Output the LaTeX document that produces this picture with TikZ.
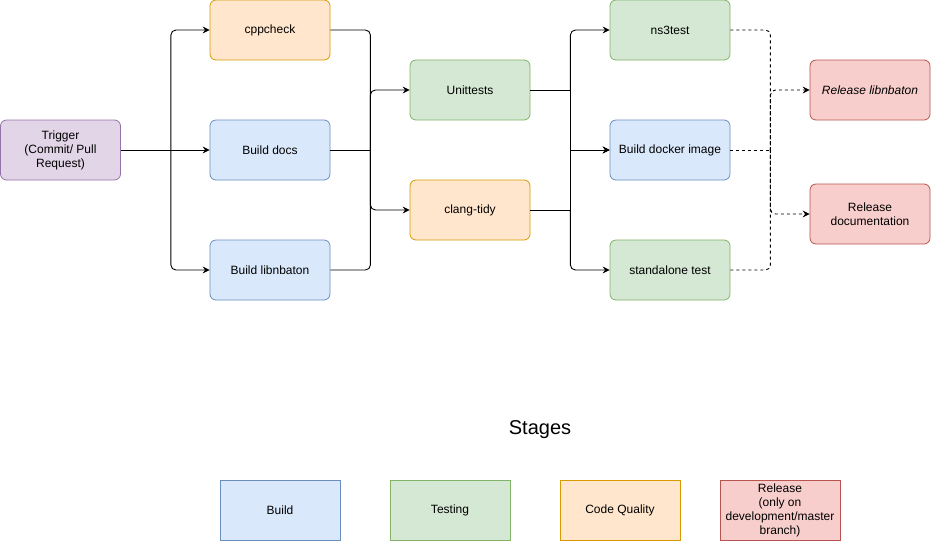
\documentclass[tikz,border=0pt]{standalone}
\usepackage{fontspec}
\setmainfont{Liberation Sans}
\usepackage{xcolor}
\usetikzlibrary{arrows.meta}
\usetikzlibrary{positioning}

\definecolor{buildfill}{HTML}{DAE8FC}
\definecolor{buildline}{HTML}{6C8EBF}
\definecolor{testfill}{HTML}{D5E8D4}
\definecolor{testline}{HTML}{82B366}
\definecolor{qualfill}{HTML}{FFE6CC}
\definecolor{qualline}{HTML}{D79B00}
\definecolor{relfill}{HTML}{F8CECC}
\definecolor{relline}{HTML}{B85450}
\definecolor{trigfill}{HTML}{E1D5E7}
\definecolor{trigline}{HTML}{9673A6}

\begin{document}
\begin{tikzpicture}[x=1pt,y=-1pt,
	stage/.style={draw,rounded corners=6pt,minimum width=120pt,minimum height=60pt,align=center,inner sep=2pt,font=\fontsize{12}{14}\selectfont,line width=0.8pt},
	build/.style={stage,fill=buildfill,draw=buildline},
	testing/.style={stage,fill=testfill,draw=testline},
	quality/.style={stage,fill=qualfill,draw=qualline},
	release/.style={stage,fill=relfill,draw=relline},
	legend/.style={sharp corners},
	wire/.style={draw,line width=0.9pt,rounded corners=5pt},
	flow/.style={wire,-{Stealth[length=7pt,width=7pt,inset=2.5pt]}},
	optional wire/.style={wire,dash pattern=on 3pt off 3pt},
	optional/.style={flow,dash pattern=on 3pt off 3pt}]
	\useasboundingbox (0,0) rectangle (931,542);
	
	\node[stage,fill=trigfill,draw=trigline] (trigger) at (60.5,150) {Trigger\\(Commit/ Pull\\Request)};
	
	\node[quality] (cppcheck) at (270,30) {cppcheck};
	\node[build] (docs) at (270,150) {Build docs};
	\node[build] (lib) at (270,270) {Build libnbaton};
	
	\node[testing] (unit) at (470,90) {Unittests};
	\node[quality] (tidy) at (470,210) {clang-tidy};
	
	\node[testing] (ns3) at (670,30) {ns3test};
	\node[build] (docker) at (670,150) {Build docker image};
	\node[testing] (alone) at (670,270) {standalone test};
	
	\node[release,font=\fontsize{12}{14}\selectfont\itshape] (rel lib) at (870,90) {Release libnbaton};
	\node[release] (rel doc) at (870,214) {Release\\documentation};
	
	\coordinate[right=50pt of trigger.east] (trig bus);
	\coordinate[right=40pt of docs.east] (docs bus);
	\coordinate[right=40pt of unit.east] (unit bus);
	\coordinate[right=40pt of tidy.east] (tidy bus);
	\coordinate[right=40pt of docker.east] (docker bus);
	
	% trigger to build stage
	\draw[wire] (trigger.east) -- (trig bus);
	\draw[flow] (trig bus) |- (cppcheck.west);
	\draw[flow] (trig bus) -- (docs.west);
	\draw[flow] (trig bus) |- (lib.west);
	
	% build to code checks
	\draw[wire] (cppcheck.east) -| (docs bus);
	\draw[wire] (lib.east) -| (docs bus);
	\draw[wire] (docs.east) -- (docs bus);
	\foreach \t in {unit,tidy}
		\draw[flow] (docs bus) |- (\t.west);
	
	% checks to tests
	\draw[wire] (unit.east) -- (unit bus);
	\draw[wire] (tidy.east) -- (tidy bus);
	\draw[flow] (unit bus) |- (ns3.west);
	\draw[flow] (tidy bus) |- (alone.west);
	\foreach \b in {unit bus,tidy bus}
		\draw[flow,sharp corners] (\b) |- (docker.west);
	
	% tests to release
	\draw[optional wire] (ns3.east) -| (docker bus);
	\draw[optional wire] (alone.east) -| (docker bus);
	\draw[optional wire] (docker.east) -- (docker bus);
	\foreach \t in {rel lib,rel doc}
		\draw[optional] (docker bus) |- (\t.west);
	
	% legend
	\node[font=\fontsize{20}{24}\selectfont] (stages) at (540,430) {Stages};
	\node[build,legend] (key build) at (280,510) {Build};
	\node[testing,legend] (key test) at (450,510) {Testing};
	\node[quality,legend] (key qual) at (620,510) {Code Quality};
	\node[release,legend] (key rel) at (780,510) {Release\\(only on\\development/master\\branch)};
	
\end{tikzpicture}
\end{document}
